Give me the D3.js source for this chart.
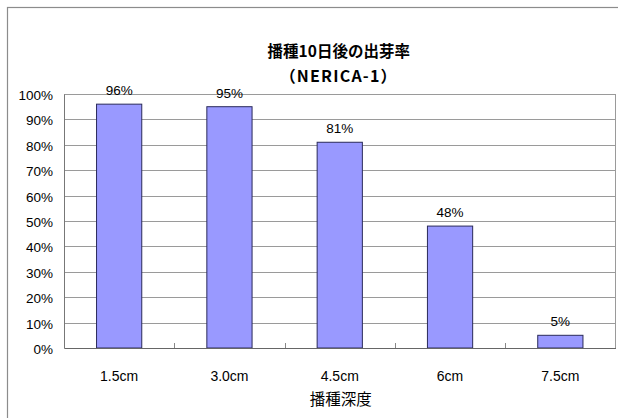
<!DOCTYPE html>
<html><head><meta charset="utf-8">
<script src="https://cdn.jsdelivr.net/npm/d3@7"></script>
<style>body{margin:0;background:#fff;} svg{display:block;}</style>
</head><body>
<script>
const categories = ["1.5cm","3.0cm","4.5cm","6cm","7.5cm"];
const values = [96,95,81,48,5];
const yTicks = [0,10,20,30,40,50,60,70,80,90,100];
const titleLines = ["播種10日後の出芽率","（NERICA-1）"];
const xTitle = "播種深度";

const W=618,H=418;
const svg=d3.select("body").append("svg").attr("width",W).attr("height",H);
svg.append("rect").attr("x",7.5).attr("y",7.5).attr("width",W+10).attr("height",H+10)
  .attr("fill","#fff").attr("stroke","#8c8c8c").attr("stroke-width",1.2);

const L=64,R=615.5,T=94,B=348;
const x=d3.scaleBand().domain(categories).range([L,R]).paddingInner(0.59).paddingOuter(0.295);
const y=d3.scaleLinear().domain([0,100]).range([B,T]);
const font="'Liberation Sans', Arial, sans-serif";
const cjk="'Noto Sans CJK JP', sans-serif";

// gridlines
svg.append("g").selectAll("line").data(yTicks.filter(d=>d>0)).join("line")
  .attr("x1",L).attr("x2",R).attr("y1",d=>Math.round(y(d))+0.5).attr("y2",d=>Math.round(y(d))+0.5)
  .attr("stroke","#9a9a9a").attr("stroke-width",1);
svg.append("line").attr("x1",R).attr("x2",R).attr("y1",T).attr("y2",B).attr("stroke","#9a9a9a");

// y axis
const yAxis=svg.append("g").attr("transform",`translate(${L},0)`)
  .call(d3.axisLeft(y).tickValues(yTicks).tickFormat(d=>d+"%").tickSize(0).tickPadding(11));
yAxis.select(".domain").attr("stroke","#777");
yAxis.selectAll("text").attr("font-family",font).attr("font-size",13.5).attr("fill","#000").attr("dy","0.4em");

// bars
svg.append("g").selectAll("rect").data(values).join("rect")
  .attr("x",(d,i)=>x(categories[i])).attr("width",x.bandwidth())
  .attr("y",d=>y(d)).attr("height",d=>B-y(d))
  .attr("fill","#9999ff").attr("stroke","#2a2a5a").attr("stroke-width",1);

// x axis
const xAxis=svg.append("g").attr("transform",`translate(0,${B})`)
  .call(d3.axisBottom(x).tickSize(0).tickPadding(23));
xAxis.select(".domain").attr("stroke","#666");
xAxis.selectAll("text").attr("font-family",font).attr("font-size",14).attr("fill","#000");
svg.append("g").selectAll("line").data(categories.slice(1)).join("line")
  .attr("x1",d=>Math.round(x(d)-x.step()*0.295)+0.5).attr("x2",d=>Math.round(x(d)-x.step()*0.295)+0.5)
  .attr("y1",B).attr("y2",B-5).attr("stroke","#888");

// labels
svg.append("g").selectAll("text").data(values).join("text")
  .attr("x",(d,i)=>x(categories[i])+x.bandwidth()/2).attr("y",d=>y(d)-9)
  .attr("text-anchor","middle").attr("font-family",font).attr("font-size",13.5).text(d=>d+"%");

// titles
const cx=(L+R)/2-1;
svg.append("text").attr("x",cx).attr("y",57).attr("text-anchor","middle")
  .attr("font-family",cjk).attr("font-size",15.5).attr("font-weight","bold").text(titleLines[0]);
svg.append("text").attr("x",cx).attr("y",82).attr("text-anchor","middle")
  .attr("font-family",cjk).attr("font-size",16).attr("font-weight","bold").attr("letter-spacing",1.2).text(titleLines[1]);
svg.append("text").attr("x",cx+2).attr("y",405).attr("text-anchor","middle")
  .attr("font-family",cjk).attr("font-size",15.5).text(xTitle);
</script>
</body></html>
